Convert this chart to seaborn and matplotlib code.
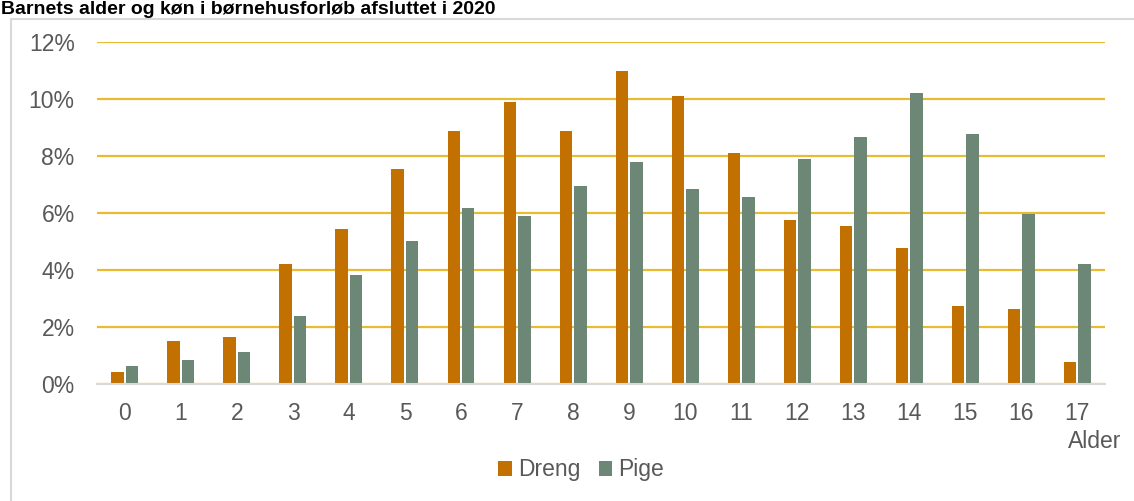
import pandas as pd
import seaborn as sns
import matplotlib.pyplot as plt
from matplotlib.patches import Rectangle
from matplotlib.ticker import PercentFormatter

# data (percent)
alder = [str(a) for a in range(18)]
dreng = [0.43, 1.53, 1.65, 4.20, 5.43, 7.53, 8.88, 9.88, 8.87, 10.97,
         10.09, 8.09, 5.75, 5.53, 4.76, 2.75, 2.64, 0.77]
pige = [0.65, 0.85, 1.14, 2.40, 3.84, 5.02, 6.17, 5.88, 6.94, 7.80,
        6.83, 6.55, 7.89, 8.66, 10.21, 8.77, 5.98, 4.22]
koen = ["Dreng", "Pige"]

df = pd.DataFrame({
    "Alder": alder * 2,
    "Andel": dreng + pige,
    "Køn": [koen[0]] * len(alder) + [koen[1]] * len(alder),
})

sns.set_style("white")
plt.rcParams['font.family'] = ['Liberation Sans', 'DejaVu Sans']

fig = plt.figure(figsize=(11.34, 5.01), dpi=100)
ax = fig.add_axes([0.0855, 0.2329, 0.889, 0.6839])

sns.barplot(
    data=df, x="Alder", y="Andel", hue="Køn", order=alder,
    palette={"Dreng": "#C27100", "Pige": "#6C8776"}, saturation=1,
    width=0.51, gap=0.11, linewidth=0, ax=ax, legend=True,
)

ax.set_ylim(0, 12)
ax.set_xlim(-0.5, 17.5)
ax.set_yticks(range(0, 13, 2))
ax.yaxis.set_major_formatter(PercentFormatter(decimals=0))
ax.grid(True, axis='y', color="#E8BB30", linewidth=1.6)
ax.set_axisbelow(True)
for s in ["top", "right", "left"]:
    ax.spines[s].set_visible(False)
ax.spines["bottom"].set_color("#D9D9D9")
ax.spines["bottom"].set_linewidth(1.5)
ax.tick_params(axis='both', length=0, labelsize=16.5, colors="#595959")
ax.tick_params(axis='y', pad=16)
ax.tick_params(axis='x', pad=13)
ax.set_xlabel("")
ax.set_ylabel("")

fig.text(0.965, 0.119, "Alder", fontsize=16.5, color="#595959", ha='center', va='center')

ax.legend_.remove()
handles, labels = ax.get_legend_handles_labels()
fig.legend(handles, labels, loc='center', bbox_to_anchor=(0.5125, 0.062), ncol=2,
           frameon=False, fontsize=16.5, labelcolor="#595959",
           handlelength=0.6, handleheight=0.6, handletextpad=0.25, columnspacing=0.8)

# light frame round the chart
fig.add_artist(Rectangle((11 / 1134, -0.05), 1.2, 1 - 19 / 501 + 0.05,
                         transform=fig.transFigure, fill=False,
                         edgecolor="#D9D9D9", linewidth=1.5))
fig.text(0.001, 1 - 1 / 501, "Barnets alder og køn i børnehusforløb afsluttet i 2020",
         fontsize=14, fontweight='bold', ha='left', va='top', color="black")

fig.savefig("out.png", dpi=100)
